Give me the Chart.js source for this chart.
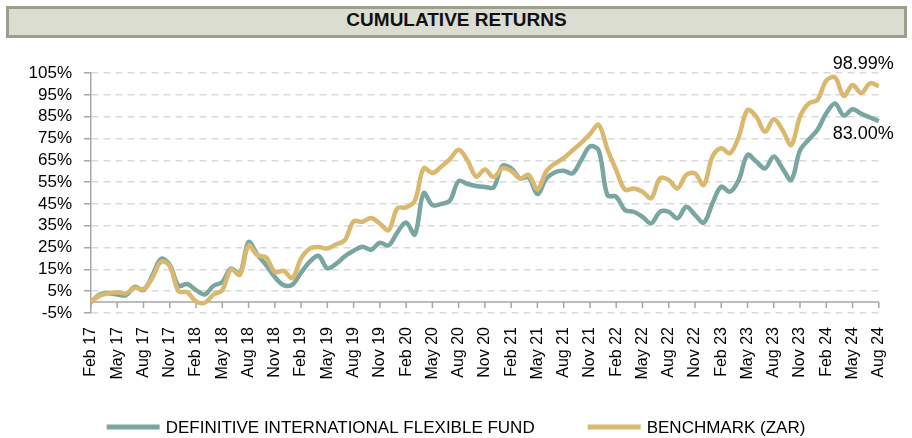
<!DOCTYPE html>
<html>
<head>
<meta charset="utf-8">
<script src="https://cdn.jsdelivr.net/npm/chart.js@4.4.0/dist/chart.umd.min.js"></script>
<style>
  body { margin: 0; background: #fff; }
  #page { position: relative; width: 912px; height: 438px; overflow: hidden; }
  #title {
    position: absolute; left: 6px; top: 6px; width: 895px; height: 26px;
    border: 3px solid #9d9d8c; background: #dcddd1;
    text-align: center; line-height: 27px; color: #111;
    font: bold 19px "Liberation Sans", Arial, sans-serif;
  }
  #wrap { position: absolute; left: 0; top: 0; width: 912px; height: 438px; }
</style>
</head>
<body>
<div id="page">
  <div id="wrap"><canvas id="lineChart" width="912" height="438"></canvas></div>
  <div id="title">CUMULATIVE RETURNS</div>
</div>
<script>
const CHART = document.getElementById('lineChart')

const months = [
  'Feb 17','Mar 17','Apr 17','May 17','Jun 17','Jul 17','Aug 17','Sep 17','Oct 17','Nov 17','Dec 17',
  'Jan 18','Feb 18','Mar 18','Apr 18','May 18','Jun 18','Jul 18','Aug 18','Sep 18','Oct 18','Nov 18','Dec 18',
  'Jan 19','Feb 19','Mar 19','Apr 19','May 19','Jun 19','Jul 19','Aug 19','Sep 19','Oct 19','Nov 19','Dec 19',
  'Jan 20','Feb 20','Mar 20','Apr 20','May 20','Jun 20','Jul 20','Aug 20','Sep 20','Oct 20','Nov 20','Dec 20',
  'Jan 21','Feb 21','Mar 21','Apr 21','May 21','Jun 21','Jul 21','Aug 21','Sep 21','Oct 21','Nov 21','Dec 21',
  'Jan 22','Feb 22','Mar 22','Apr 22','May 22','Jun 22','Jul 22','Aug 22','Sep 22','Oct 22','Nov 22','Dec 22',
  'Jan 23','Feb 23','Mar 23','Apr 23','May 23','Jun 23','Jul 23','Aug 23','Sep 23','Oct 23','Nov 23','Dec 23',
  'Jan 24','Feb 24','Mar 24','Apr 24','May 24','Jun 24','Jul 24','Aug 24'
]

// cumulative return, %
const fund = [
  0, 3.5, 4, 3.5, 3.2, 7, 5.5, 12, 19.8, 17,
  7.5, 8.3, 5.5, 3.5, 7.5, 9.2, 15.4, 13, 27.5, 21.8,
  17, 11.5, 7.8, 8, 13.5, 18.5, 21.2, 15.5, 17.5, 21,
  23.5, 25.4, 24, 27.2, 26, 32, 36.5, 31, 49.9, 44.5,
  45, 46.5, 55.5, 54.2, 53.2, 52.8, 52.6, 62.4, 61.3, 56.7,
  57.2, 49.5, 56.5, 59.5, 60.2, 59, 65, 71.3, 69.5, 49,
  48.3, 42.2, 41.4, 39.1, 36.1, 41.4, 41.4, 38.4, 43.7, 40,
  36.4, 45.3, 52.9, 50.6, 56, 67.4, 64.4, 61.3, 66.7, 61.3,
  56, 69.5, 74.5, 79, 86.5, 91, 85.5, 88.4, 86.3, 84.6,
  83.00
]

const benchmark = [
  0, 3, 4, 4.5, 4, 6.5, 6, 11, 18.5, 16.5,
  5, 4.5, 0.3, -0.3, 3.5, 5.5, 15, 12.5, 26, 21.5,
  20.5, 13.8, 14.3, 11, 20, 24.5, 25.2, 24.6, 26.5, 28.4,
  37, 36.8, 38.5, 36, 33, 43, 43.4, 46.5, 61.3, 59.2,
  62, 65.5, 69.8, 65, 57.5, 60.8, 57.3, 61.3, 60.2, 56.7,
  58.3, 51.7, 59.8, 63.5, 66, 69.5, 73, 77, 81.2, 70,
  60.5, 51.5, 52.1, 50.6, 47.6, 56.7, 56, 52.1, 58.3, 59,
  53.7, 66.7, 70.5, 68.2, 75.8, 88, 85, 78.1, 83.8, 78.9,
  72, 85, 91.1, 92.7, 101.5, 103, 94.5, 99.5, 95.8, 100.3,
  98.99
]

const yTicks = [-5, 5, 15, 25, 35, 45, 55, 65, 75, 85, 95, 105]

const TEAL = '#79a6a1'
const GOLD = '#dab86e'
const AXIS = '#a6a6a6'
const FONT = '"Liberation Sans", Arial, sans-serif'

// axis line at 0% with tick marks every 3 months (like the excel original)
const zeroAxis = {
    id: 'zeroAxis',
    beforeDatasetsDraw(chart) {
        const {ctx, chartArea, scales: {x, y}} = chart
        const y0 = y.getPixelForValue(0)
        ctx.save()
        ctx.strokeStyle = AXIS
        ctx.lineWidth = 1.5
        ctx.beginPath()
        ctx.moveTo(chartArea.left, y0)
        ctx.lineTo(chartArea.right, y0)
        for (let i = 0; i < months.length; i += 3) {
            const px = x.getPixelForValue(i)
            ctx.moveTo(px, y0)
            ctx.lineTo(px, y0 + 6)
        }
        ctx.stroke()
        ctx.restore()
    }
}

const endLabels = {
    id: 'endLabels',
    afterDatasetsDraw(chart) {
        const ctx = chart.ctx
        ctx.save()
        ctx.font = '18px ' + FONT
        ctx.fillStyle = '#000'
        ctx.textAlign = 'right'
        chart.data.datasets.forEach((ds, i) => {
            const last = ds.data.length - 1
            const pt = chart.getDatasetMeta(i).data[last]
            const dy = i === 0 ? 18 : -17
            ctx.fillText(ds.data[last].toFixed(2) + '%', pt.x + 15, pt.y + dy)
        })
        ctx.restore()
    }
}

// legend drawn by hand, the built-in one can't do a wide gap without huge vertical padding
const bottomLegend = {
    id: 'bottomLegend',
    afterDraw(chart) {
        const ctx = chart.ctx
        const boxW = 53, gap = 6, itemGap = 53, cy = 427
        ctx.save()
        ctx.font = '17px ' + FONT
        ctx.textBaseline = 'middle'
        const items = chart.data.datasets.map(ds => ({ds, w: ctx.measureText(ds.label).width}))
        let total = items.reduce((s, it) => s + boxW + gap + it.w, 0) + itemGap * (items.length - 1)
        let x = chart.width / 2 - total / 2
        items.forEach(it => {
            ctx.fillStyle = it.ds.borderColor
            ctx.fillRect(x, cy - 2.5, boxW, 5)
            ctx.fillStyle = '#000'
            ctx.fillText(it.ds.label, x + boxW + gap, cy + 1)
            x += boxW + gap + it.w + itemGap
        })
        ctx.restore()
    }
}

let lineChart = new Chart(CHART, {
    type: 'line',
    data: {
        labels: months,
        datasets: [
            {
                label: 'DEFINITIVE INTERNATIONAL FLEXIBLE FUND',
                data: fund,
                borderColor: TEAL,
                backgroundColor: TEAL,
                borderWidth: 4.5,
                pointRadius: 0,
                tension: 0.35,
                order: 1
            },
            {
                label: 'BENCHMARK (ZAR)',
                data: benchmark,
                borderColor: GOLD,
                backgroundColor: GOLD,
                borderWidth: 4.5,
                pointRadius: 0,
                tension: 0.35,
                order: 0
            }
        ]
    },
    options: {
        responsive: false,
        animation: false,
        layout: {
            padding: {top: 73, right: 29, left: 0, bottom: 55}
        },
        plugins: {
            tooltip: {enabled: false},
            legend: {display: false}
        },
        scales: {
            x: {
                grid: {display: false, drawTicks: false},
                border: {display: false},
                afterFit(scale) { scale.height = 70 },
                ticks: {
                    autoSkip: false,
                    maxRotation: 90,
                    minRotation: 90,
                    padding: 14,
                    color: '#000',
                    font: {family: FONT, size: 16},
                    callback(value, index) {
                        return index % 3 === 0 ? months[index] : null
                    }
                }
            },
            y: {
                min: -5,
                max: 105,
                afterBuildTicks(scale) {
                    scale.ticks = yTicks.map(v => ({value: v}))
                },
                afterFit(scale) { scale.width = 91 },
                grid: {
                    color: '#d9d9d9',
                    lineWidth: 1.5,
                    tickLength: 7,
                    tickColor: AXIS,
                    tickWidth: 1.5
                },
                border: {display: true, color: AXIS, width: 1.5, dash: [7, 5]},
                ticks: {
                    autoSkip: false,
                    padding: 12,
                    color: '#000',
                    font: {family: FONT, size: 17},
                    callback: v => v + '%'
                }
            }
        }
    },
    plugins: [zeroAxis, endLabels, bottomLegend]
})
</script>
</body>
</html>
